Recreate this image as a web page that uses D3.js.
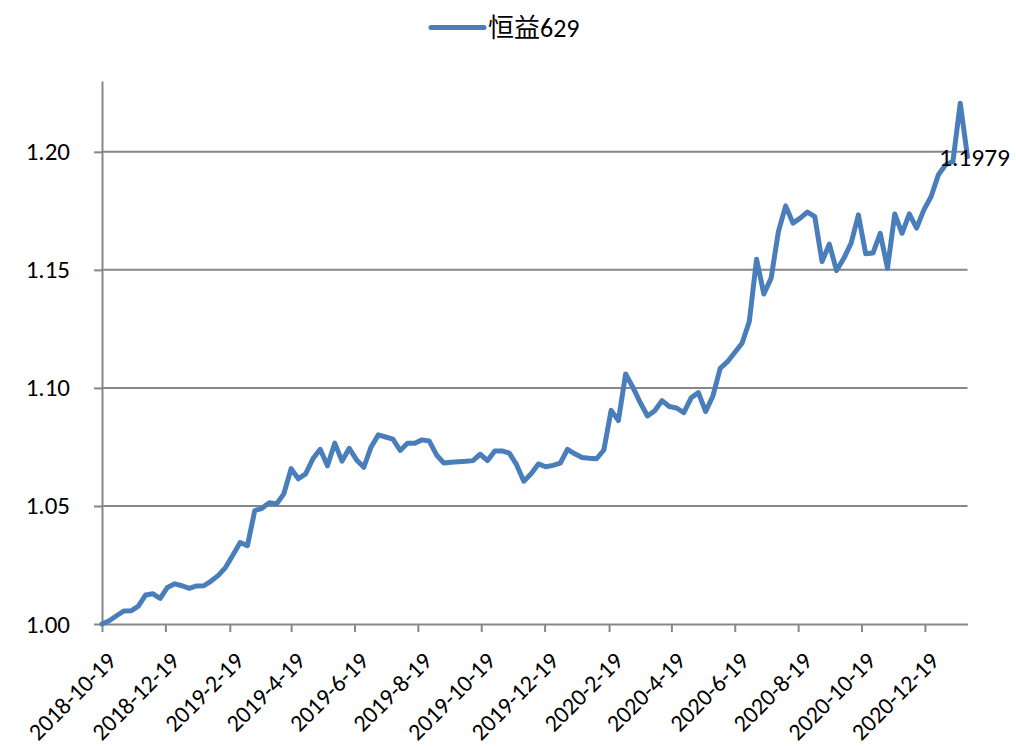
<!DOCTYPE html>
<html>
<head>
<meta charset="utf-8">
<script src="https://cdn.jsdelivr.net/npm/d3@7"></script>
<style>
  html, body { margin: 0; padding: 0; background: #fff; }
  svg { display: block; }
  text { font-family: Carlito, Calibri, "Noto Sans CJK SC", sans-serif; fill: #000; }
</style>
</head>
<body>
<svg id="chart" width="1016" height="747"></svg>
<script>
// Series name
const seriesName = "恒益629";

// Weekly net value, every Friday starting 2018-10-19
const startDate = "2018-10-19";
const navValues = [
  1.0000, 1.0014, 1.0035, 1.0055, 1.0056, 1.0076, 1.0123, 1.0128, 1.0109, 1.0155,
  1.0170, 1.0162, 1.0151, 1.0161, 1.0162, 1.0182, 1.0206, 1.0240, 1.0292, 1.0345,
  1.0332, 1.0480, 1.0490, 1.0514, 1.0508, 1.0551, 1.0658, 1.0615, 1.0636, 1.0700,
  1.0740, 1.0670, 1.0766, 1.0690, 1.0744, 1.0695, 1.0664, 1.0750, 1.0801, 1.0792,
  1.0783, 1.0735, 1.0766, 1.0766, 1.0780, 1.0775, 1.0716, 1.0682, 1.0685, 1.0687,
  1.0689, 1.0692, 1.0719, 1.0692, 1.0733, 1.0733, 1.0724, 1.0675, 1.0605, 1.0636,
  1.0678, 1.0666, 1.0672, 1.0681, 1.0740, 1.0721, 1.0705, 1.0702, 1.0700, 1.0737,
  1.0905, 1.0862, 1.1059, 1.1002, 1.0938, 1.0881, 1.0903, 1.0946, 1.0921, 1.0915,
  1.0895, 1.0958, 1.0980, 1.0900, 1.0966, 1.1083, 1.1111, 1.1150, 1.1189, 1.1281,
  1.1545, 1.1398, 1.1465, 1.1662, 1.1771, 1.1698, 1.1719, 1.1745, 1.1726, 1.1535,
  1.1609, 1.1497, 1.1549, 1.1613, 1.1733, 1.1568, 1.1571, 1.1655, 1.1507, 1.1737,
  1.1655, 1.1737, 1.1677, 1.1754, 1.1811, 1.1903, 1.1945, 1.1959, 1.2206, 1.1979
];

// Axis ticks
const xTickLabels = [
  "2018-10-19", "2018-12-19", "2019-2-19", "2019-4-19", "2019-6-19", "2019-8-19",
  "2019-10-19", "2019-12-19", "2020-2-19", "2020-4-19", "2020-6-19", "2020-8-19",
  "2020-10-19", "2020-12-19"
];
const yTicks = [1.00, 1.05, 1.10, 1.15, 1.20];
const yDomain = [1.00, 1.23];

const parse = d3.timeParse("%Y-%m-%d");
const t0 = parse(startDate);
const data = navValues.map((v, i) => ({ date: d3.timeDay.offset(t0, 7 * i), value: v }));

const svg = d3.select("#chart");
const plot = { left: 102, right: 967.5, top: 81, bottom: 624 };
const gridColor = "#878787";
const lineColor = "#4A7EBB";
const fontSize = 25;

const x = d3.scaleTime()
  .domain([t0, data[data.length - 1].date])
  .range([plot.left, plot.right]);
const y = d3.scaleLinear().domain(yDomain).range([plot.bottom, plot.top]);

// Horizontal gridlines
svg.append("g")
  .selectAll("line")
  .data(yTicks.slice(1))
  .join("line")
  .attr("x1", plot.left).attr("x2", plot.right)
  .attr("y1", d => y(d)).attr("y2", d => y(d))
  .attr("stroke", gridColor).attr("stroke-width", 2);

// Y axis
const yAxis = svg.append("g")
  .attr("transform", `translate(${plot.left},0)`)
  .call(d3.axisLeft(y).tickValues(yTicks).tickFormat(d3.format(".2f"))
    .tickSize(8).tickSizeOuter(0).tickPadding(24));
yAxis.select(".domain").attr("stroke", gridColor).attr("stroke-width", 2);
yAxis.selectAll(".tick line").attr("stroke", gridColor).attr("stroke-width", 2);
yAxis.selectAll(".tick text").attr("font-size", fontSize);

// X axis, labels slanted 45 degrees
const xTickDates = xTickLabels.map(parse);
const xAxis = svg.append("g")
  .attr("transform", `translate(0,${plot.bottom})`)
  .call(d3.axisBottom(x).tickValues(xTickDates).tickSize(8).tickSizeOuter(0)
    .tickFormat((d, i) => xTickLabels[i]));
xAxis.select(".domain").attr("stroke", gridColor).attr("stroke-width", 2);
xAxis.selectAll(".tick line").attr("stroke", gridColor).attr("stroke-width", 2);
xAxis.selectAll(".tick text")
  .attr("font-size", 24)
  .attr("text-anchor", "end")
  .attr("x", 0).attr("y", 0).attr("dy", 0)
  .attr("transform", "translate(15,38.5) rotate(-45)");

// Series line
const line = d3.line().x(d => x(d.date)).y(d => y(d.value));
svg.append("path")
  .datum(data)
  .attr("d", line)
  .attr("fill", "none")
  .attr("stroke", lineColor)
  .attr("stroke-width", 5)
  .attr("stroke-linejoin", "round")
  .attr("stroke-linecap", "round");

// Label on the final point
const last = data[data.length - 1];
svg.append("text")
  .attr("x", x(last.date) + 7)
  .attr("y", y(last.value) + 9.5)
  .attr("text-anchor", "middle")
  .attr("font-size", fontSize + 0.5)
  .text(d3.format(".4f")(last.value));

// Legend
const legend = svg.append("g");
legend.append("line")
  .attr("x1", 431).attr("x2", 484).attr("y1", 27.5).attr("y2", 27.5)
  .attr("stroke", lineColor).attr("stroke-width", 5).attr("stroke-linecap", "round");
legend.append("text")
  .attr("x", 488).attr("y", 36.5)
  .attr("font-size", 26)
  .text(seriesName);
</script>
</body>
</html>
